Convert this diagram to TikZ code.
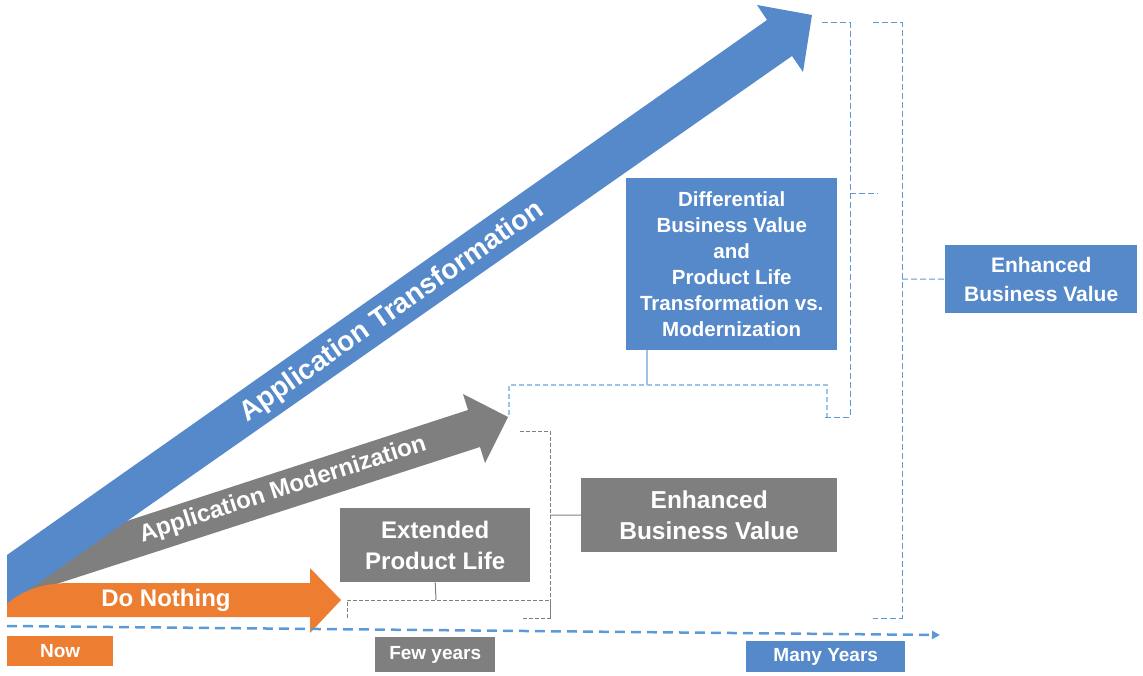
\documentclass[tikz,border=0pt]{standalone}
\usepackage{fontspec}
\setmainfont{Liberation Sans}
\usetikzlibrary{arrows.meta}
\definecolor{appblue}{HTML}{5589C9}
\definecolor{appgrey}{HTML}{7F7F7F}
\definecolor{apporange}{HTML}{ED7D31}
\definecolor{lineblue}{HTML}{5B9BD5}
\definecolor{paleblue}{HTML}{9DC3E6}

\begin{document}
\begin{tikzpicture}[x=1pt,y=-1pt,
    box/.style={anchor=north west,text=white,align=center,inner sep=0pt},
    greybrace/.style={appgrey,line width=1pt,dash pattern=on 4pt off 2pt},
    palebrace/.style={paleblue,line width=1.5pt,dash pattern=on 5pt off 3pt},
    bluebrace/.style={lineblue,line width=1pt,dash pattern=on 6pt off 3pt}]
  \useasboundingbox (0,0) rectangle (1143,676);
  \fill[appgrey] (7,560)--(468,410)--(463,394)--(508,417)--(485,463)--(480,447)--(7,600)--cycle;
  \fill[appblue] (7,555)--(767,20)--(757,5)--(812,15)--(803,72)--(792,56)--(7,605)--cycle;
  \fill[apporange] (7,617)--(7,604) .. controls (20,592) and (40,583) .. (70,583)%
    --(310,583)--(310,568)--(341,600)--(310,633)--(310,617)--cycle;
  \node[text=white,font=\bfseries\fontsize{28}{28}\selectfont,rotate=35] (transform) at (392,312) {Application Transformation};
  \node[text=white,font=\bfseries\fontsize{24}{24}\selectfont,rotate=18] (modern) at (283,490) {Application Modernization};
  \node[text=white,font=\bfseries\fontsize{24}{24}\selectfont] (nothing) at (166,600) {Do Nothing};

  \coordinate (tstart) at (7,626);
  \coordinate (tend) at (940,635);
  \draw[lineblue,line width=2.5pt,dash pattern=on 10pt off 6pt,-{Triangle[length=8pt,width=8pt]}] (tstart)--(tend);
  \node[box,fill=apporange,minimum width=106pt,minimum height=30pt,font=\bfseries\fontsize{19}{19}\selectfont] (now) at (7,636) {Now};
  \node[box,fill=appgrey,minimum width=120pt,minimum height=35pt,font=\bfseries\fontsize{19}{19}\selectfont] (few) at (375,637) {Few years};
  \node[box,fill=appblue,minimum width=159pt,minimum height=31pt,font=\bfseries\fontsize{19}{19}\selectfont] (many) at (746,641) {Many Years};

  \node[box,fill=appgrey,minimum width=190pt,minimum height=74pt,font=\bfseries\fontsize{24}{31}\selectfont] (ext) at (340,508) {Extended\\Product Life};
  \node[box,fill=appgrey,minimum width=256pt,minimum height=74pt,font=\bfseries\fontsize{24.5}{31}\selectfont] (ebvgrey) at (581,478) {Enhanced\\Business Value};
  \node[box,fill=appblue,minimum width=211pt,minimum height=172pt,font=\bfseries\fontsize{20.5}{26}\selectfont] (diff) at (626,178) {Differential\\Business Value\\and\\Product Life\\Transformation vs.\\Modernization};
  \node[box,fill=appblue,minimum width=192pt,minimum height=68pt,font=\bfseries\fontsize{21}{29}\selectfont] (ebvblue) at (945,245) {Enhanced\\Business Value};

  \coordinate (extbrace) at (436,600);
  \draw[greybrace] (347,618)--(347,600)--(550,600)--(550,618);
  \draw[appgrey,line width=1pt] (ext.south)--(extbrace);
  \coordinate (modbrace) at (550,515);
  \draw[greybrace] (520,431)--(550,431)--(550,618)--(522,618);
  \draw[appgrey,line width=1pt] (modbrace)--(ebvgrey.west);
  \coordinate (diffbrace) at (647,385);
  \draw[palebrace] (509,415)--(509,385)--(827,385)--(827,417);
  \draw[paleblue,line width=1.5pt] (diffbrace)--(diffbrace |- diff.south);
  \coordinate (transbrace) at (850,194);
  \draw[bluebrace] (822,23)--(850,23)--(850,417)--(823,417);
  \draw[bluebrace] (transbrace)--++(28,0);
  \coordinate (allbrace) at (902,279);
  \draw[bluebrace] (873,23)--(902,23)--(902,618)--(873,618);
  \draw[bluebrace] (allbrace)--(ebvblue.west);
\end{tikzpicture}
\end{document}
